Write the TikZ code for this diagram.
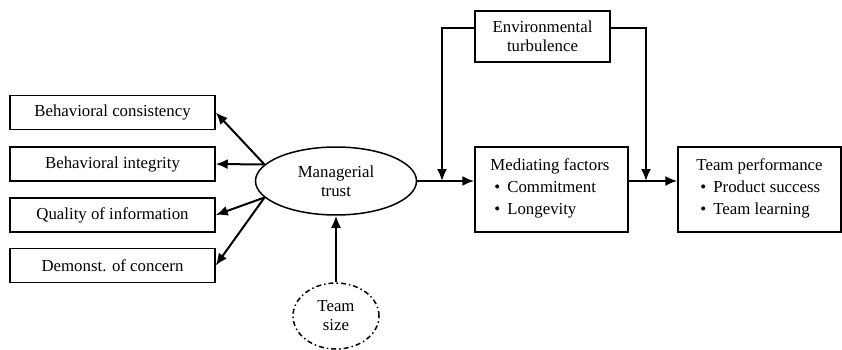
\documentclass[tikz,border=0pt]{standalone}
\usepackage{fontspec}
\setmainfont{Liberation Serif}
\usetikzlibrary{shapes.geometric,arrows.meta}

\tikzset{
  txt/.style={font=\fontsize{16.8}{19}\selectfont},
  box/.style={draw, line width=1.5pt, inner sep=0pt, align=center, txt},
  oval/.style={ellipse, draw, line width=1.5pt, inner sep=0pt, align=center, txt},
  arr/.style={-{Latex[length=12pt,width=10pt]}, line width=2pt},
  inlist/.style={anchor=north west, inner sep=0pt, align=left,
    font=\fontsize{16.8}{22}\selectfont},
}
\newcommand{\itm}{\hspace*{4pt}\textbullet\hspace{7pt}}

\begin{document}
\begin{tikzpicture}[x=1pt,y=-1pt]
  \useasboundingbox (0,0) rectangle (842,350);

  % --- dimensions of trust (left) ---
  \node[box, minimum width=205, minimum height=34] (bc) at (112.5,112.5) {Behavioral consistency};
  \node[box, minimum width=205, minimum height=34] (bi) at (112.5,164) {Behavioral integrity};
  \node[box, minimum width=205, minimum height=34] (qi) at (112.5,215) {Quality of information};
  \node[box, minimum width=205, minimum height=34] (dc) at (112.5,265.5) {Demonst. of concern};

  % --- managerial trust ---
  \node[oval, minimum width=161, minimum height=68] (trust) at (336,181) {Managerial\\trust};

  % --- team size (dash dot) ---
  \node[oval, minimum width=86, minimum height=66,
    dash pattern=on 5pt off 3pt on 1.5pt off 3pt] (size) at (336,316) {Team\\size};

  % --- environmental turbulence ---
  \node[box, minimum width=135, minimum height=51] (env) at (542.5,36.5) {Environmental\\turbulence};

  % --- mediating factors ---
  \node[box, minimum width=153, minimum height=85] (med) at (551.5,189.5) {};
  \node[inlist] (medtxt) at ([xshift=16pt,yshift=-12pt]med.north west)
    {Mediating factors\\\itm Commitment\\\itm Longevity};

  % --- team performance ---
  \node[box, minimum width=163, minimum height=85] (perf) at (759.5,189.5) {};
  \node[inlist] (perftxt) at ([xshift=19pt,yshift=-12pt]perf.north west)
    {Team performance\\\itm Product success\\\itm Team learning};

  % --- joins on the main line ---
  \coordinate (jl) at (442,181);
  \coordinate (jr) at (646,181);

  % --- trust -> dimensions ---
  \draw[arr] (trust.167) -- (bc.east);
  \draw[arr] (trust.167) -- (bi.east);
  \draw[arr] (trust.193) -- (qi.east);
  \draw[arr] (trust.193) -- (dc.east);

  % --- team size -> trust ---
  \draw[arr] (size.north) -- (trust.south);

  % --- main chain ---
  \draw[arr] (trust.east) -- (trust.east -| med.west);
  \draw[arr] (med.east |- jr) -- (perf.west |- jr);

  % --- turbulence moderates ---
  \draw[arr] ([yshift=8pt]env.west) -| (jl);
  \draw[arr] ([yshift=8pt]env.east) -| (jr);

\end{tikzpicture}
\end{document}
